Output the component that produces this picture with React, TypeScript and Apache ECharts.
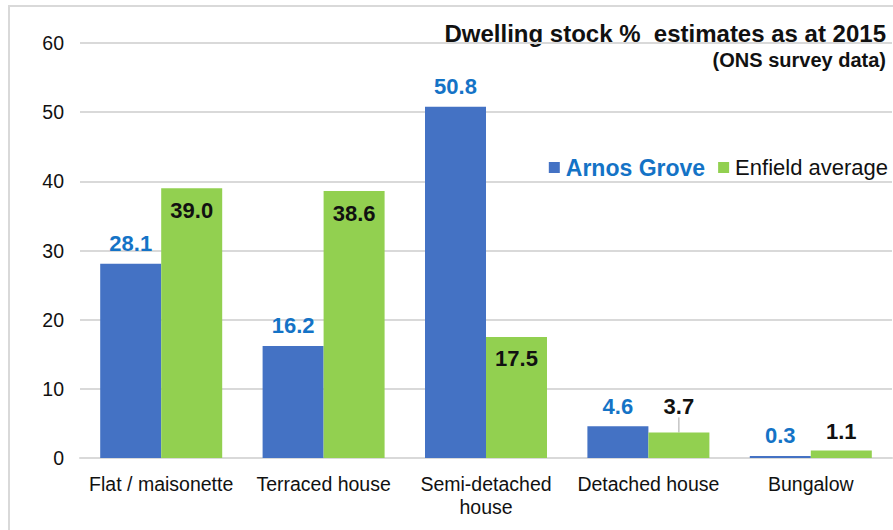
import React, { useEffect, useRef } from "react";
import * as echarts from "echarts";

const categories = ["Flat / maisonette", "Terraced house", "Semi-detached\nhouse", "Detached house", "Bungalow"];
const arnosGrove = [28.1, 16.2, 50.8, 4.6, 0.3];
const enfieldAverage = [39.0, 38.6, 17.5, 3.7, 1.1];
const yTicks = { min: 0, max: 60, interval: 10 };
const titleText = "Dwelling stock %  estimates as at 2015";
const subtitleText = "(ONS survey data)";

const FONT = "Liberation Sans, Arial, sans-serif";

export default function App() {
  const ref = useRef<HTMLDivElement>(null);
  useEffect(() => {
    const chart = echarts.init(ref.current!, null, { renderer: "svg" });
    const insideIdx = [0, 1, 2];
    chart.setOption({
      animation: false,
      backgroundColor: "#fff",
      textStyle: { fontFamily: FONT },
      legend: {
        right: 5,
        top: 156,
        padding: 0,
        itemWidth: 11,
        itemHeight: 11,
        itemGap: 13,
        icon: "rect",
        data: [
          { name: "Arnos Grove", textStyle: { color: "#1473C6", fontWeight: "bold", fontSize: 23 } },
          { name: "Enfield average", textStyle: { color: "#111", fontSize: 22 } },
        ],
        textStyle: { fontFamily: FONT, padding: [0, 0, 0, 1] },
      },
      grid: { left: 80, right: 1, top: 43, bottom: 72, containLabel: false },
      graphic: [
        {
          type: "rect",
          shape: { x: 9, y: 6, width: 1000, height: 1000 },
          style: { fill: "none", stroke: "#D9D9D9", lineWidth: 2 },
          silent: true,
          z: -1,
        },
        {
          type: "text",
          x: 886,
          y: 33,
          style: {
            text: titleText,
            textAlign: "right",
            textVerticalAlign: "middle",
            font: `bold 24px ${FONT}`,
            fill: "#111",
          },
        },
        {
          type: "text",
          x: 886,
          y: 60,
          style: {
            text: subtitleText,
            textAlign: "right",
            textVerticalAlign: "middle",
            font: `bold 20px ${FONT}`,
            fill: "#111",
          },
        },
      ],
      xAxis: {
        type: "category",
        data: categories,
        axisTick: { show: false },
        axisLine: { lineStyle: { color: "#D9D9D9", width: 2 } },
        axisLabel: { fontFamily: FONT, fontSize: 19.5, color: "#111", margin: 14, lineHeight: 23, interval: 0 },
      },
      yAxis: {
        type: "value",
        min: yTicks.min,
        max: yTicks.max,
        interval: yTicks.interval,
        axisLine: { show: false },
        axisTick: { show: false },
        splitLine: { lineStyle: { color: "#D9D9D9", width: 2 } },
        axisLabel: { fontFamily: FONT, fontSize: 19.5, color: "#111", margin: 16 },
      },
      series: [
        {
          name: "Arnos Grove",
          type: "bar",
          data: arnosGrove,
          barWidth: 61,
          barGap: "0%",
          itemStyle: { color: "#4472C4" },
          label: {
            show: true,
            position: "top",
            distance: 9,
            formatter: (p: any) => p.value.toFixed(1),
            fontFamily: FONT,
            fontSize: 22,
            fontWeight: "bold",
            color: "#1473C6",
          },
        },
        {
          name: "Enfield average",
          type: "bar",
          barWidth: 61,
          data: enfieldAverage.map((v, i) => {
            if (insideIdx.includes(i)) {
              return { value: v, label: { position: "insideTop", distance: 11 } };
            }
            if (i === 3) {
              return { value: v, label: { position: "top", distance: 5 }, labelLine: { show: true } };
            }
            return { value: v };
          }),
          itemStyle: { color: "#92D050" },
          label: {
            show: true,
            position: "top",
            distance: 8,
            formatter: (p: any) => p.value.toFixed(1),
            fontFamily: FONT,
            fontSize: 22,
            fontWeight: "bold",
            color: "#111",
          },
          labelLayout: (p: any) => (p.dataIndex === 3 ? { dy: -10 } : {}),
          labelLine: { show: false, lineStyle: { color: "#A6A6A6", width: 1 } },
        },
      ],
    });
    return () => chart.dispose();
  }, []);
  return <div ref={ref} style={{ position: "fixed", left: 0, top: 0, width: 893, height: 530 }} />;
}
